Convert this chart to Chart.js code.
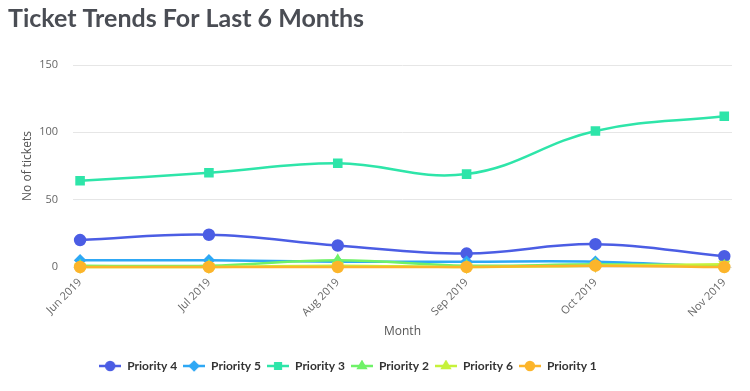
<!DOCTYPE html>
<html>
<head>
<meta charset="utf-8">
<script src="https://cdn.jsdelivr.net/npm/chart.js@4/dist/chart.umd.min.js"></script>
<style>
  html, body { margin: 0; padding: 0; background: #fff; }
  #wrap { width: 750px; height: 391px; position: relative; }
</style>
</head>
<body>
<div id="wrap"><canvas id="trendChart" width="750" height="391"></canvas></div>
<script>
// Ticket trends, last 6 months
const months = ['Jun 2019', 'Jul 2019', 'Aug 2019', 'Sep 2019', 'Oct 2019', 'Nov 2019'];
const yTicks = [0, 50, 100, 150];

const priority4 = [20, 24, 16, 10, 17, 8];
const priority5 = [5, 5, 4, 4, 4, 0];
const priority3 = [64, 70, 77, 69, 101, 112];
const priority2 = [1, 1, 5, 1, 2, 1];
const priority6 = [0, 0, 1, 0, 1, 2];
const priority1 = [0, 0, 0, 0, 1, 0];

function series(label, values, color, style, radius, rotation, order) {
    return {
        label,
        data: values.map((v, i) => ({ x: i, y: v })),
        borderColor: color,
        backgroundColor: color,
        pointStyle: style,
        pointRadius: radius,
        pointRotation: rotation || 0,
        pointHoverRadius: radius + 1,
        borderWidth: 2.5,
        tension: 0.4,
        fill: false,
        clip: false,
        order // later series are painted on top, as in the original
    };
}

// legend icon: short line with the marker on top, like the original
function legendIcon(ds) {
    const c = document.createElement('canvas');
    c.width = 22; c.height = 12;
    const g = c.getContext('2d');
    g.strokeStyle = ds.borderColor;
    g.lineWidth = 2.5;
    g.beginPath(); g.moveTo(0, 6); g.lineTo(22, 6); g.stroke();
    g.fillStyle = ds.backgroundColor;
    Chart.helpers.drawPoint(g, {
        pointStyle: ds.pointStyle,
        radius: Math.min(ds.pointRadius, 4),
        rotation: ds.pointRotation,
        borderWidth: 1
    }, 11, 6);
    return c;
}

// the original legend sits a bit left of centre
const legendShift = {
    id: 'legendShift',
    afterLayout(chart) {
        chart.legend.left -= 22;
        chart.legend.right -= 22;
    }
};

const ctx = document.getElementById('trendChart');
new Chart(ctx, {
    type: 'line',
    data: {
        datasets: [
            series('Priority 4', priority4, '#4b5de4', 'circle', 5, 0, 5),
            series('Priority 5', priority5, '#2ea8f5', 'rectRot', 4.5, 0, 4),
            series('Priority 3', priority3, '#2ee5a9', 'rect', 5, 0, 3),
            series('Priority 2', priority2, '#6ff268', 'triangle', 4.5, 0, 2),
            series('Priority 6', priority6, '#c6f23a', 'triangle', 4.5, 180, 1),
            series('Priority 1', priority1, '#fcb52b', 'circle', 5, 0, 0)
        ]
    },
    plugins: [legendShift],
    options: {
        responsive: false,
        animation: false,
        layout: { padding: { left: 8, right: 18, top: 2, bottom: 9 } },
        plugins: {
            title: {
                display: true,
                text: 'Ticket Trends For Last 6 Months',
                align: 'start',
                color: '#4a4d54',
                font: { family: 'Lato', size: 25, weight: 'bold' },
                padding: { top: 2, bottom: 31 },
                fullSize: true
            },
            legend: {
                position: 'bottom',
                labels: {
                    usePointStyle: true,
                    pointStyleWidth: 22,
                    boxHeight: 12,
                    padding: 6,
                    color: '#333',
                    font: { family: 'Lato', size: 12, weight: 'bold' },
                    sort: (a, b) => a.datasetIndex - b.datasetIndex,
                    generateLabels: chart => {
                        const items = Chart.defaults.plugins.legend.labels.generateLabels(chart);
                        items.forEach(it => {
                            it.pointStyle = legendIcon(chart.data.datasets[it.datasetIndex]);
                        });
                        return items;
                    }
                }
            },
            tooltip: { enabled: false }
        },
        scales: {
            x: {
                type: 'linear',
                min: -0.055,
                max: 5.06,
                afterBuildTicks: scale => { scale.ticks = months.map((_, i) => ({ value: i })); },
                // rotated first label may hang under the y axis, as in the original
                afterFit: scale => { scale.paddingLeft = 0; },
                ticks: {
                    callback: v => months[v],
                    maxRotation: 45,
                    minRotation: 45,
                    color: '#666',
                    font: { family: 'Open Sans', size: 11 }
                },
                grid: { drawOnChartArea: false, drawTicks: true, tickLength: 6, color: '#d8dde6' },
                border: { display: false },
                title: {
                    display: true,
                    text: 'Month',
                    color: '#555',
                    font: { family: 'Open Sans', size: 12 },
                    padding: { top: 2, bottom: 15 }
                }
            },
            y: {
                min: 0,
                max: 150,
                afterBuildTicks: scale => { scale.ticks = yTicks.map(v => ({ value: v })); },
                afterFit: scale => { scale.width = 65; },
                ticks: {
                    color: '#666',
                    padding: 15,
                    font: { family: 'Open Sans', size: 11 }
                },
                grid: { color: '#e6e6e6', drawTicks: false, lineWidth: 1 },
                border: { display: false },
                title: {
                    display: true,
                    text: 'No of tickets',
                    color: '#555',
                    font: { family: 'Open Sans', size: 12 },
                    padding: { top: 12, bottom: 4 }
                }
            }
        }
    }
});
</script>
</body>
</html>
